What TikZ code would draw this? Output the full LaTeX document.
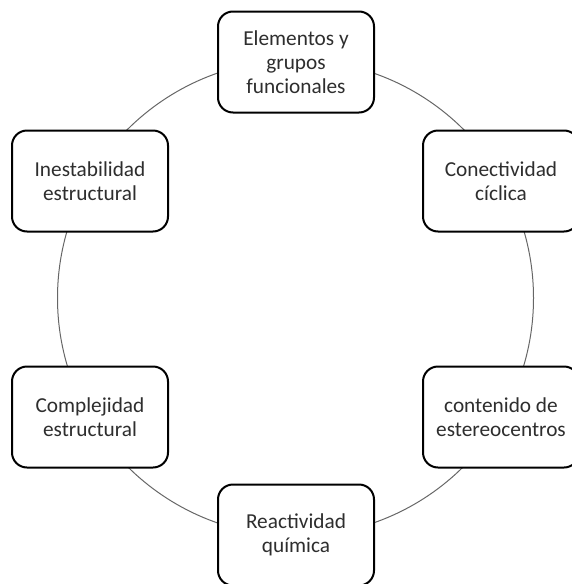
\documentclass[tikz,border=0pt]{standalone}
\usepackage{fontspec}
\setmainfont{Carlito}
\begin{document}
\begin{tikzpicture}[x=1pt,y=-1pt,
  box/.style={draw=black, line width=2pt, fill=white, rounded corners=15pt,
    minimum width=156pt, minimum height=101pt, align=center,
    text=black!82, font=\fontsize{21.3pt}{24pt}\selectfont, inner sep=0pt},
  ring/.style={draw=black!60, line width=1pt}]
\useasboundingbox (0,0) rectangle (572,584);
\begin{scope}
\clip (0,0) rectangle (572,584);
\coordinate (c) at (295.5,298);
\draw[ring] (c) circle[radius=238pt];
\node[box] (top) at (296,62) {Elementos y\\grupos\\funcionales};
\node[box] (ur) at (501,181) {Conectividad\\cíclica};
\node[box] (lr) at (501,417) {contenido de\\estereocentros};
\node[box] (bot) at (296,535) {Reactividad\\química};
\node[box] (ll) at (90,417) {Complejidad\\estructural};
\node[box] (ul) at (90,181) {Inestabilidad\\estructural};
\end{scope}
\end{tikzpicture}
\end{document}
